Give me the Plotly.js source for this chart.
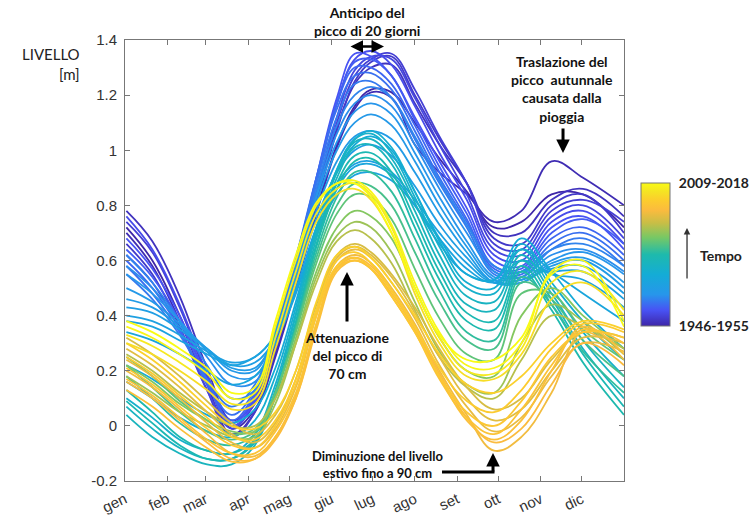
<!DOCTYPE html>
<html>
<head>
<meta charset="utf-8">
<script src="https://cdn.plot.ly/plotly-3.0.1.min.js"></script>
<style>
  html, body { margin: 0; padding: 0; background: #fff; }
  #chart { width: 754px; height: 519px; }
</style>
</head>
<body>
<div id="chart"></div>
<script>
// ---- DATA ----
// day-of-year at which each level value is read
const days = [1, 20, 40, 60, 78, 95, 110, 125, 140, 155, 168, 180, 195, 212, 230, 250, 270, 290, 312, 335, 365];

// month tick labels (Italian)
const monthTickDays = [0, 31, 59, 90, 120, 151, 181, 212, 243, 273, 304, 334];
const monthLabels = ['gen', 'feb', 'mar', 'apr', 'mag', 'giu', 'lug', 'ago', 'set', 'ott', 'nov', 'dic'];

const yTickVals = [-0.2, 0, 0.2, 0.4, 0.6, 0.8, 1, 1.2, 1.4];
const yTickText = ['-0.2', '0', '0.2', '0.4', '0.6', '0.8', '1', '1.2', '1.4'];

const firstPeriod = '1946-1955';
const lastPeriod = '2009-2018';
const firstStartYear = 1946;
const lastStartYear = 2009;

// 10-year windows starting in these years, water level [m]
const darkBlueYears = [1946, 1947, 1948, 1949, 1950, 1951, 1952, 1953, 1954, 1955, 1956, 1957];
const darkBlueLevels = [
  [0.72,0.60,0.40,0.17,-0.01,0.06,0.26,0.51,0.78,1.02,1.16,1.22,1.21,1.10,0.97,0.85,0.72,0.74,0.84,0.84,0.72],
  [0.70,0.58,0.38,0.15,-0.03,0.05,0.25,0.50,0.77,1.01,1.15,1.21,1.19,1.02,0.92,0.84,0.74,0.78,0.96,0.90,0.80],
  [0.78,0.67,0.47,0.21,0.02,0.09,0.30,0.54,0.82,1.08,1.24,1.30,1.31,1.17,1.02,0.88,0.70,0.70,0.82,0.86,0.76],
  [0.66,0.55,0.36,0.13,-0.04,0.05,0.27,0.52,0.80,1.07,1.25,1.32,1.34,1.20,1.04,0.88,0.68,0.66,0.80,0.84,0.70],
  [0.74,0.63,0.43,0.18,0.00,0.08,0.29,0.54,0.83,1.10,1.27,1.33,1.35,1.22,1.05,0.88,0.66,0.64,0.78,0.82,0.74],
  [0.62,0.52,0.35,0.13,-0.01,0.09,0.31,0.56,0.85,1.12,1.29,1.34,1.33,1.19,1.02,0.84,0.64,0.62,0.76,0.80,0.68],
  [0.76,0.64,0.44,0.19,0.01,0.10,0.32,0.58,0.88,1.17,1.33,1.36,1.31,1.16,0.99,0.82,0.62,0.60,0.74,0.78,0.66],
  [0.68,0.57,0.40,0.17,0.00,0.09,0.32,0.59,0.90,1.19,1.35,1.34,1.27,1.12,0.96,0.79,0.60,0.58,0.72,0.76,0.64],
  [0.64,0.54,0.38,0.16,0.01,0.11,0.33,0.59,0.89,1.17,1.32,1.33,1.27,1.11,0.94,0.77,0.58,0.57,0.70,0.75,0.66],
  [0.60,0.50,0.35,0.15,0.02,0.12,0.34,0.60,0.90,1.17,1.30,1.30,1.24,1.09,0.92,0.75,0.57,0.56,0.68,0.72,0.62],
  [0.58,0.48,0.34,0.16,0.04,0.13,0.34,0.61,0.90,1.15,1.27,1.28,1.22,1.07,0.90,0.74,0.56,0.55,0.66,0.70,0.60],
  [0.55,0.46,0.33,0.17,0.07,0.15,0.35,0.61,0.88,1.12,1.24,1.25,1.19,1.04,0.88,0.72,0.55,0.54,0.64,0.68,0.58]
];

const lightBlueYears = [1958, 1959, 1960, 1961, 1962, 1963, 1964, 1965, 1966];
const lightBlueLevels = [
  [0.62,0.52,0.38,0.22,0.10,0.13,0.32,0.58,0.86,1.09,1.20,1.23,1.19,1.05,0.89,0.73,0.58,0.56,0.64,0.66,0.58],
  [0.58,0.50,0.38,0.25,0.15,0.16,0.33,0.57,0.84,1.06,1.17,1.20,1.16,1.02,0.86,0.70,0.56,0.54,0.62,0.64,0.56],
  [0.55,0.48,0.38,0.27,0.18,0.18,0.34,0.57,0.83,1.03,1.14,1.17,1.13,0.99,0.83,0.67,0.54,0.53,0.60,0.63,0.55],
  [0.50,0.45,0.37,0.28,0.20,0.20,0.34,0.56,0.81,1.00,1.10,1.13,1.09,0.96,0.80,0.65,0.53,0.52,0.59,0.61,0.52],
  [0.46,0.43,0.36,0.28,0.21,0.21,0.33,0.54,0.78,0.96,1.05,1.07,1.04,0.92,0.77,0.63,0.52,0.52,0.58,0.60,0.50],
  [0.43,0.41,0.35,0.28,0.22,0.23,0.32,0.52,0.75,0.92,1.00,1.02,0.98,0.87,0.73,0.61,0.52,0.53,0.57,0.58,0.48],
  [0.40,0.38,0.33,0.27,0.23,0.25,0.33,0.50,0.72,0.88,0.95,0.96,0.92,0.82,0.70,0.59,0.52,0.56,0.56,0.56,0.46],
  [0.38,0.36,0.31,0.26,0.22,0.25,0.33,0.49,0.69,0.84,0.91,0.92,0.89,0.80,0.68,0.57,0.52,0.60,0.55,0.53,0.43],
  [0.34,0.31,0.26,0.20,0.15,0.18,0.30,0.48,0.70,0.86,0.94,0.95,0.91,0.80,0.66,0.55,0.53,0.64,0.56,0.48,0.38]
];

const tealGreenYears = [1968, 1970, 1971, 1973, 1974, 1976, 1977, 1979, 1981, 1983];
const tealGreenLevels = [
  [0.22,0.17,0.10,0.04,0.01,0.06,0.21,0.45,0.72,0.92,1.02,1.05,1.00,0.85,0.68,0.55,0.53,0.68,0.56,0.42,0.28],
  [0.16,0.10,0.03,-0.02,-0.04,0.02,0.18,0.43,0.72,0.93,1.04,1.07,1.01,0.85,0.67,0.52,0.50,0.66,0.52,0.38,0.24],
  [0.10,0.03,-0.05,-0.09,-0.10,-0.03,0.15,0.41,0.71,0.93,1.04,1.06,0.99,0.83,0.65,0.50,0.48,0.64,0.50,0.34,0.18],
  [0.07,-0.01,-0.08,-0.12,-0.12,-0.05,0.13,0.40,0.70,0.92,1.03,1.04,0.97,0.81,0.62,0.47,0.45,0.62,0.48,0.31,0.14],
  [0.04,-0.04,-0.10,-0.14,-0.14,-0.07,0.11,0.38,0.68,0.90,1.01,1.02,0.95,0.78,0.59,0.44,0.42,0.60,0.46,0.28,0.10],
  [0.09,0.01,-0.07,-0.12,-0.12,-0.06,0.11,0.37,0.66,0.88,0.98,0.99,0.92,0.75,0.56,0.41,0.38,0.58,0.44,0.26,0.07],
  [0.13,0.05,-0.04,-0.09,-0.10,-0.05,0.11,0.36,0.65,0.86,0.96,0.97,0.90,0.72,0.53,0.38,0.35,0.56,0.42,0.23,0.04],
  [0.18,0.10,0.01,-0.05,-0.07,-0.03,0.12,0.36,0.63,0.83,0.92,0.92,0.85,0.68,0.49,0.34,0.31,0.54,0.44,0.27,0.12],
  [0.22,0.14,0.05,-0.02,-0.05,-0.02,0.12,0.35,0.61,0.80,0.88,0.87,0.80,0.63,0.45,0.31,0.28,0.52,0.46,0.31,0.18],
  [0.25,0.18,0.09,0.02,-0.03,-0.01,0.12,0.34,0.59,0.77,0.84,0.83,0.75,0.57,0.39,0.26,0.24,0.48,0.48,0.35,0.24]
];

const oliveYears = [1986, 1988, 1990];
const oliveLevels = [
  [0.22,0.16,0.08,0.02,-0.02,-0.02,0.10,0.32,0.56,0.72,0.78,0.76,0.68,0.50,0.32,0.20,0.18,0.40,0.50,0.40,0.28],
  [0.18,0.12,0.05,0.00,-0.04,-0.04,0.08,0.30,0.54,0.69,0.74,0.72,0.63,0.45,0.27,0.15,0.12,0.30,0.44,0.38,0.26],
  [0.26,0.20,0.12,0.05,0.00,0.00,0.10,0.30,0.52,0.67,0.71,0.68,0.59,0.42,0.25,0.14,0.10,0.24,0.40,0.36,0.28]
];

const orangeYears = [1993, 1994, 1995, 1996, 1997, 1998, 1999, 2000, 2001, 2002];
const orangeLevels = [
  [0.32,0.26,0.18,0.09,0.01,-0.03,0.04,0.20,0.44,0.62,0.66,0.63,0.55,0.43,0.28,0.14,0.06,0.10,0.24,0.34,0.32],
  [0.28,0.22,0.14,0.05,-0.03,-0.06,0.01,0.17,0.42,0.61,0.65,0.62,0.54,0.41,0.25,0.10,0.02,0.06,0.20,0.32,0.30],
  [0.24,0.18,0.10,0.01,-0.06,-0.08,-0.01,0.14,0.40,0.60,0.64,0.61,0.52,0.39,0.22,0.07,-0.02,0.03,0.18,0.30,0.27],
  [0.20,0.14,0.06,-0.03,-0.10,-0.11,-0.04,0.11,0.37,0.58,0.62,0.59,0.50,0.37,0.20,0.04,-0.09,-0.04,0.12,0.34,0.24],
  [0.16,0.10,0.02,-0.06,-0.12,-0.12,-0.05,0.10,0.36,0.57,0.61,0.58,0.49,0.36,0.19,0.03,-0.06,-0.01,0.15,0.30,0.22],
  [0.13,0.07,-0.01,-0.08,-0.13,-0.12,-0.04,0.10,0.35,0.56,0.60,0.57,0.48,0.35,0.18,0.02,-0.05,0.02,0.20,0.36,0.26],
  [0.17,0.11,0.03,-0.05,-0.10,-0.10,-0.02,0.12,0.37,0.57,0.60,0.57,0.47,0.34,0.17,0.03,-0.03,0.06,0.22,0.35,0.30],
  [0.21,0.15,0.07,-0.01,-0.07,-0.08,0.00,0.15,0.40,0.58,0.61,0.57,0.47,0.34,0.18,0.05,0.00,0.09,0.25,0.34,0.32],
  [0.25,0.19,0.11,0.03,-0.04,-0.05,0.02,0.17,0.42,0.60,0.63,0.59,0.49,0.36,0.21,0.09,0.05,0.13,0.28,0.37,0.34],
  [0.30,0.24,0.16,0.07,0.00,-0.01,0.05,0.20,0.45,0.62,0.65,0.61,0.52,0.40,0.26,0.15,0.12,0.18,0.30,0.38,0.35]
];

const yellowYears = [2004, 2006, 2008, 2009];
const yellowLevels = [
  [0.30,0.26,0.20,0.13,0.06,0.08,0.28,0.52,0.74,0.84,0.86,0.82,0.70,0.48,0.30,0.18,0.17,0.26,0.46,0.52,0.40],
  [0.33,0.29,0.23,0.16,0.08,0.10,0.32,0.56,0.77,0.86,0.88,0.84,0.72,0.50,0.32,0.20,0.19,0.28,0.52,0.56,0.42],
  [0.36,0.32,0.26,0.19,0.10,0.12,0.36,0.60,0.80,0.88,0.89,0.85,0.73,0.52,0.34,0.22,0.21,0.30,0.56,0.60,0.38],
  [0.38,0.34,0.28,0.21,0.12,0.14,0.38,0.62,0.81,0.88,0.88,0.83,0.70,0.50,0.33,0.24,0.24,0.32,0.55,0.58,0.36]
];

// ---- COLOUR SCALE (parula-like) ----
const parula = [
  [0.00, [62, 38, 168]],
  [0.11, [72, 82, 244]],
  [0.22, [39, 150, 235]],
  [0.36, [20, 172, 214]],
  [0.50, [30, 186, 172]],
  [0.62, [120, 200, 100]],
  [0.72, [200, 190, 70]],
  [0.81, [251, 187, 62]],
  [0.88, [252, 205, 45]],
  [0.94, [245, 228, 35]],
  [1.00, [249, 251, 21]]
];
function colorAt(t) {
  t = Math.max(0, Math.min(1, t));
  for (let i = 1; i < parula.length; i++) {
    if (t <= parula[i][0]) {
      const [t0, c0] = parula[i - 1], [t1, c1] = parula[i];
      const f = (t - t0) / (t1 - t0);
      const c = c0.map((v, k) => Math.round(v + f * (c1[k] - v)));
      return `rgb(${c[0]},${c[1]},${c[2]})`;
    }
  }
  const c = parula[parula.length - 1][1];
  return `rgb(${c[0]},${c[1]},${c[2]})`;
}
const plotlyScale = parula.map(([t, c]) => [t, `rgb(${c[0]},${c[1]},${c[2]})`]);

// ---- TRACES ----
const groups = [
  [darkBlueYears, darkBlueLevels],
  [lightBlueYears, lightBlueLevels],
  [tealGreenYears, tealGreenLevels],
  [oliveYears, oliveLevels],
  [orangeYears, orangeLevels],
  [yellowYears, yellowLevels]
];
const traces = [];
groups.forEach(([years, levels]) => {
  years.forEach((yr, i) => {
    const t = (yr - firstStartYear) / (lastStartYear - firstStartYear);
    traces.push({
      type: 'scatter', mode: 'lines',
      x: days, y: levels[i],
      name: yr + '-' + (yr + 9),
      line: { color: colorAt(t), width: 1.8, shape: 'spline', smoothing: 1.1 },
      hoverinfo: 'skip', showlegend: false
    });
  });
});
// colour bar carrier (points lie outside the visible x range)
traces.push({
  type: 'scatter', mode: 'markers',
  x: [-50, -40], y: [0, 0],
  marker: {
    color: [0, 1], cmin: 0, cmax: 1, colorscale: plotlyScale, size: 2,
    showscale: true,
    colorbar: {
      x: 1.034, xanchor: 'left', y: 0.5136, yanchor: 'middle',
      len: 143, lenmode: 'pixels', thickness: 29, thicknessmode: 'pixels',
      xpad: 0, ypad: 0, outlinewidth: 1, outlinecolor: '#777',
      tickvals: [0, 1], ticktext: ['<b>' + firstPeriod + '</b>', '<b>' + lastPeriod + '</b>'],
      ticks: 'outside', ticklen: 6, tickcolor: 'rgba(0,0,0,0)',
      tickfont: { family: 'Lato', size: 14, color: '#222' }
    }
  },
  hoverinfo: 'skip', showlegend: false
});

// ---- LAYOUT ----
const annFont = { family: 'Lato', size: 14, color: '#111' };
const layout = {
  width: 754, height: 519,
  margin: { l: 125, r: 130, t: 40, b: 38, autoexpand: false },
  paper_bgcolor: '#fff', plot_bgcolor: '#fff',
  xaxis: {
    range: [0, 365], tickvals: monthTickDays, ticktext: monthLabels,
    tickangle: -25, ticks: 'inside', ticklen: 5, tickcolor: '#777',
    showline: true, linecolor: '#777', linewidth: 1, mirror: 'ticks',
    showgrid: false, zeroline: false, ticklabelstandoff: 3, automargin: false,
    tickfont: { family: 'Liberation Sans', size: 15, color: '#333' }
  },
  yaxis: {
    range: [-0.2, 1.4], tickvals: yTickVals, ticktext: yTickText,
    ticks: 'inside', ticklen: 5, tickcolor: '#777',
    showline: true, linecolor: '#777', linewidth: 1, mirror: 'ticks',
    showgrid: false, zeroline: false, ticklabelstandoff: 4, automargin: false,
    tickfont: { family: 'Liberation Sans', size: 15, color: '#333' }
  },
  annotations: [
    { xref: 'paper', yref: 'paper', x: -0.086, y: 0.9456, xanchor: 'right', yanchor: 'middle',
      align: 'right', showarrow: false, text: 'LIVELLO<br>[m]',
      font: { family: 'Lato', size: 15, color: '#222' } },
    { xref: 'paper', yref: 'paper', x: 0.485, y: 1.043, xanchor: 'center', yanchor: 'middle',
      showarrow: false, text: '<b>Anticipo del<br>picco di 20 giorni</b>', font: annFont },
    { xref: 'paper', yref: 'paper', x: 0.519, y: 0.9853, ax: -35, ay: 0, text: '',
      showarrow: true, arrowside: 'end+start', arrowhead: 2, arrowsize: 1, arrowwidth: 2.5, arrowcolor: '#000' },
    { xref: 'paper', yref: 'paper', x: 0.8758, y: 0.889, xanchor: 'center', yanchor: 'middle',
      showarrow: false, text: '<b>Traslazione del<br>picco  autunnale<br>causata dalla<br>pioggia</b>', font: annFont },
    { xref: 'paper', yref: 'paper', x: 0.8778, y: 0.7438, ax: 0, ay: -26, text: '',
      showarrow: true, arrowhead: 2, arrowsize: 0.9, arrowwidth: 3, arrowcolor: '#000' },
    { xref: 'paper', yref: 'paper', x: 0.4449, y: 0.2857, xanchor: 'center', yanchor: 'middle',
      showarrow: false, text: '<b>Attenuazione<br>del picco di<br>70 cm</b>', font: annFont },
    { xref: 'paper', yref: 'paper', x: 0.4449, y: 0.4739, ax: 0, ay: 51, text: '',
      showarrow: true, arrowhead: 2, arrowsize: 0.9, arrowwidth: 3, arrowcolor: '#000' },
    { xref: 'paper', yref: 'paper', x: 0.507, y: 0.0374, xanchor: 'center', yanchor: 'middle',
      showarrow: false, text: '<b>Diminuzione del livello<br>estivo fino a 90 cm</b>',
      font: { family: 'Lato', size: 13, color: '#111' } },
    { xref: 'paper', yref: 'paper', x: 0.7375, y: 0.0635, ax: 0, ay: 20, text: '',
      showarrow: true, arrowhead: 2, arrowsize: 0.9, arrowwidth: 3, arrowcolor: '#000' },
    { xref: 'paper', yref: 'paper', x: 1.1944, y: 0.511, xanchor: 'center', yanchor: 'middle',
      showarrow: false, text: '<b>Tempo</b>', font: { family: 'Lato', size: 14, color: '#222' } },
    { xref: 'paper', yref: 'paper', x: 1.1263, y: 0.5737, ax: 0, ay: 52, text: '',
      showarrow: true, arrowhead: 2, arrowsize: 1, arrowwidth: 1.3, arrowcolor: '#333' }
  ],
  shapes: [
    { type: 'line', xref: 'paper', yref: 'paper', x0: 0.6353, x1: 0.7405, y0: 0.0204, y1: 0.0204,
      line: { color: '#000', width: 3 } }
  ]
};

Plotly.newPlot('chart', traces, layout, { displayModeBar: false, staticPlot: true });
</script>
</body>
</html>
